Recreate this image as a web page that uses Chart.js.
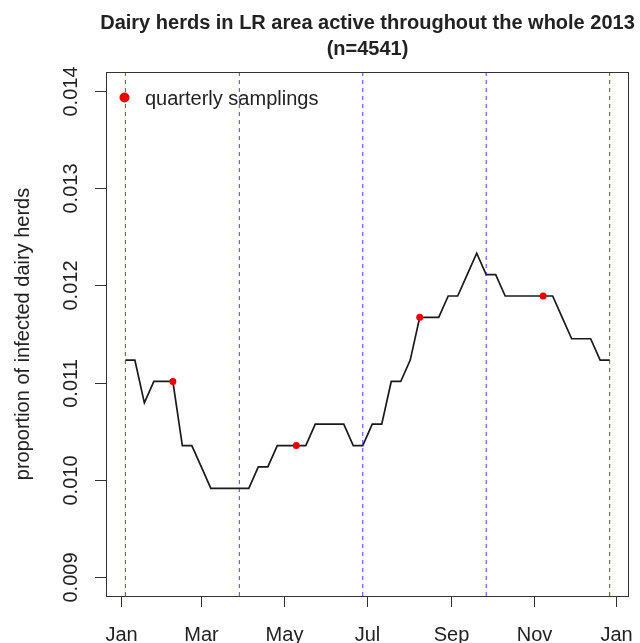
<!DOCTYPE html>
<html>
<head>
<meta charset="utf-8">
<script src="https://cdn.jsdelivr.net/npm/chart.js@4.4.1/dist/chart.umd.min.js"></script>
<style>
  html, body { margin: 0; padding: 0; background: #ffffff; }
  canvas { display: block; }
</style>
</head>
<body>
<canvas id="herds" width="640" height="643"></canvas>
<script>
// herds active all year and weekly count of infected ones
const n = 4541;
const weeks = [
    '2013-01-04', '2013-01-11', '2013-01-18', '2013-01-25',
    '2013-02-01', '2013-02-08', '2013-02-15', '2013-02-22',
    '2013-03-01', '2013-03-08', '2013-03-15', '2013-03-22', '2013-03-29',
    '2013-04-05', '2013-04-12', '2013-04-19', '2013-04-26',
    '2013-05-03', '2013-05-10', '2013-05-17', '2013-05-24', '2013-05-31',
    '2013-06-07', '2013-06-14', '2013-06-21', '2013-06-28',
    '2013-07-05', '2013-07-12', '2013-07-19', '2013-07-26',
    '2013-08-02', '2013-08-09', '2013-08-16', '2013-08-23', '2013-08-30',
    '2013-09-06', '2013-09-13', '2013-09-20', '2013-09-27',
    '2013-10-04', '2013-10-11', '2013-10-18', '2013-10-25',
    '2013-11-01', '2013-11-08', '2013-11-15', '2013-11-22', '2013-11-29',
    '2013-12-06', '2013-12-13', '2013-12-20', '2013-12-27'
];
const infected = [
    51, 51, 49, 50,
    50, 50, 47, 47,
    46, 45, 45, 45, 45,
    45, 46, 46, 47,
    47, 47, 47, 48, 48,
    48, 48, 47, 47,
    48, 48, 50, 50,
    51, 53, 53, 53, 54,
    54, 55, 56, 55,
    55, 54, 54, 54,
    54, 54, 54, 53, 52,
    52, 52, 51, 51
];
const samplingWeeks = ['2013-02-08', '2013-05-10', '2013-08-09', '2013-11-08'];
const quarterLines = ['2013-01-04', '2013-03-29', '2013-06-28', '2013-09-27', '2013-12-27'];

const monthTicks = ['2013-01-01', '2013-03-01', '2013-05-01', '2013-07-01', '2013-09-01', '2013-11-01', '2014-01-01'];
const monthLabels = ['Jan', 'Mar', 'May', 'Jul', 'Sep', 'Nov', 'Jan'];
const yTicks = [0.009, 0.010, 0.011, 0.012, 0.013, 0.014];
const yTickLabels = ['0.009', '0.010', '0.011', '0.012', '0.013', '0.014'];

const titleLines = ['Dairy herds in LR area active throughout the whole 2013', '(n=4541)'];
const yTitle = 'proportion of infected dairy herds';
const legendText = 'quarterly samplings';

const FONT = '"Liberation Sans", Arial, Helvetica, sans-serif';
const INK = '#222222';

// days since 1 Jan 2013
const dayOf = s => (Date.parse(s) - Date.parse('2013-01-01')) / 86400000;

const series = weeks.map((w, i) => ({ x: dayOf(w), y: infected[i] / n }));
const samplings = samplingWeeks.map(w => ({ x: dayOf(w), y: infected[weeks.indexOf(w)] / n }));

// R style 4% axis extension
const xFirst = dayOf(weeks[0]);
const xLast = dayOf(weeks[weeks.length - 1]);
const xPad = (xLast - xFirst) * 0.04;
const yMin = 0.009 - 0.0002;
const yMax = 0.014 + 0.0002;

const quarterSets = quarterLines.map(d => ({
    data: [{ x: dayOf(d), y: yMin }, { x: dayOf(d), y: yMax }],
    borderColor: 'rgba(20, 20, 235, 0.8)',
    borderWidth: 1,
    borderDash: [4, 4],
    pointRadius: 0,
    order: 1
}));

const baseGraphics = {
    id: 'baseGraphics',
    afterDraw(chart) {
        const { ctx, chartArea: a, scales } = chart;
        const xs = scales.x, ys = scales.y;
        ctx.save();

        // frame
        ctx.strokeStyle = '#333333';
        ctx.lineWidth = 1;
        ctx.strokeRect(Math.round(a.left) + 0.5, Math.round(a.top) + 0.5,
            Math.round(a.right - a.left) - 1, Math.round(a.bottom - a.top));

        // x axis ticks + month labels
        ctx.fillStyle = INK;
        ctx.font = `20px ${FONT}`;
        ctx.textAlign = 'center';
        ctx.textBaseline = 'alphabetic';
        monthTicks.forEach((m, i) => {
            const px = Math.round(xs.getPixelForValue(dayOf(m))) + 0.5;
            ctx.beginPath();
            ctx.moveTo(px, a.bottom);
            ctx.lineTo(px, a.bottom + 11);
            ctx.stroke();
            ctx.fillText(monthLabels[i], px, a.bottom + 45);
        });

        // y axis ticks + rotated labels
        yTicks.forEach((v, i) => {
            const py = Math.round(ys.getPixelForValue(v)) + 0.5;
            ctx.beginPath();
            ctx.moveTo(a.left - 11, py);
            ctx.lineTo(a.left, py);
            ctx.stroke();
            ctx.save();
            ctx.translate(a.left - 29, py);
            ctx.rotate(-Math.PI / 2);
            ctx.fillText(yTickLabels[i], 0, 0);
            ctx.restore();
        });

        // y axis title
        ctx.save();
        ctx.translate(29, (a.top + a.bottom) / 2);
        ctx.rotate(-Math.PI / 2);
        ctx.fillText(yTitle, 0, 0);
        ctx.restore();

        // main title
        ctx.font = `bold 20px ${FONT}`;
        const cx = (a.left + a.right) / 2;
        ctx.fillText(titleLines[0], cx, 29);
        ctx.fillText(titleLines[1], cx, 55);

        // legend
        ctx.fillStyle = '#ee0000';
        ctx.beginPath();
        ctx.arc(a.left + 18.5, a.top + 25.5, 5, 0, Math.PI * 2);
        ctx.fill();
        ctx.fillStyle = INK;
        ctx.font = `20px ${FONT}`;
        ctx.textAlign = 'left';
        ctx.fillText(legendText, a.left + 39, a.top + 33);

        ctx.restore();
    }
};

new Chart(document.getElementById('herds'), {
    type: 'line',
    data: {
        datasets: [
            {
                data: samplings,
                showLine: false,
                pointRadius: 3.5,
                pointBackgroundColor: '#ee0000',
                pointBorderWidth: 0,
                order: 0
            },
            ...quarterSets,
            {
                data: series,
                borderColor: '#1a1a1a',
                borderWidth: 1.7,
                pointRadius: 0,
                tension: 0,
                order: 2
            }
        ]
    },
    options: {
        responsive: false,
        animation: false,
        layout: { padding: { left: 106, right: 11, top: 72, bottom: 47 } },
        plugins: {
            legend: { display: false },
            tooltip: { enabled: false },
            title: { display: false }
        },
        scales: {
            x: { type: 'linear', display: false, min: xFirst - xPad, max: xLast + xPad },
            y: { type: 'linear', display: false, min: yMin, max: yMax }
        }
    },
    plugins: [baseGraphics]
});
</script>
</body>
</html>
